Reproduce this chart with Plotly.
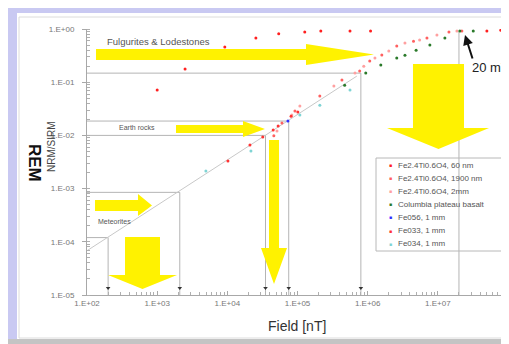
import plotly.graph_objects as go

# ---------------- data ----------------
x_tickvals = [1e2, 1e3, 1e4, 1e5, 1e6, 1e7, 1e8]
x_ticktext = ["1.E+02", "1.E+03", "1.E+04", "1.E+05", "1.E+06", "1.E+07", "1.E+08"]
y_tickvals = [1e-5, 1e-4, 1e-3, 1e-2, 1e-1, 1e0]
y_ticktext = ["1.E-05", "1.E-04", "1.E-03", "1.E-02", "1.E-01", "1.E+00"]

s60_field = [1.0e3, 2.5e3, 9.2e3, 2.55e4, 5.4e4, 1.27e5, 2.15e5, 5.6e5, 1.1e6, 5.0e7, 7.9e7]
s60_rem = [0.071, 0.177, 0.46, 0.68, 0.81, 0.88, 0.92, 0.92, 0.92, 0.92, 0.95]

s1900_field = [4.6e4, 6.0e4, 9.2e4, 2.08e5, 4.3e5, 7.7e5, 1.07e6, 1.59e6, 2.6e6, 4.5e6, 7.0e6, 1.44e7, 2.2e7]
s1900_rem = [0.0098, 0.0171, 0.0288, 0.055, 0.11, 0.163, 0.25, 0.324, 0.479, 0.59, 0.68, 0.88, 0.92]

s2mm_field = [5.1e4, 8.3e4, 1.08e5, 3.3e5, 6.6e5, 8.8e5, 1.27e6, 2.0e6, 3.4e6, 5.5e6, 9.7e6, 1.87e7]
s2mm_rem = [0.0121, 0.0242, 0.0357, 0.085, 0.149, 0.20, 0.285, 0.386, 0.545, 0.62, 0.77, 0.92]

basalt_field = [4.7e5, 9.4e5, 1.54e6, 2.6e6, 3.4e6, 4.9e6, 7.7e6, 1.26e7, 2.06e7, 3.2e7]
basalt_rem = [0.088, 0.149, 0.21, 0.285, 0.32, 0.40, 0.50, 0.68, 0.92, 0.92]

fe056_field = [7.3e4]
fe056_rem = [0.0187]

fe033_field = [1.02e4, 2.1e4, 3.2e4, 4.5e4, 5.3e4, 8.1e4, 1.01e5]
fe033_rem = [0.0033, 0.0066, 0.0093, 0.0126, 0.015, 0.023, 0.0276]

fe034_field = [4.95e3, 2.17e4, 1.08e5, 2.08e5, 5.6e5]
fe034_rem = [0.00214, 0.0051, 0.0242, 0.037, 0.071]

trend_field = [1e2, 7e5]
trend_rem = [6.8e-5, 0.13]

# reference boxes: (field, rem) corners
box_field = [2.0e2, 2.1e3, 3.5e4, 7.5e4, 8.0e5]
box_rem = [1.2e-4, 8.5e-4, 0.01, 0.0186, 0.148]
sat_field = 2.0e7
sat_top = 0.9
axis_min_field = 1e2
axis_min_rem = 1e-5
marker_rem = 1.35e-5

series = [
    ("Fe2.4Ti0.6O4, 60 nm", s60_field, s60_rem, "#ff2020"),
    ("Fe2.4Ti0.6O4, 1900 nm", s1900_field, s1900_rem, "#ff6060"),
    ("Fe2.4Ti0.6O4, 2mm", s2mm_field, s2mm_rem, "#ffa0a0"),
    ("Columbia plateau basalt", basalt_field, basalt_rem, "#2a7a2a"),
    ("Fe056, 1 mm", fe056_field, fe056_rem, "#3030ff"),
    ("Fe033, 1 mm", fe033_field, fe033_rem, "#ff3333"),
    ("Fe034, 1 mm", fe034_field, fe034_rem, "#7fd4d4"),
]

# ---------------- layout helpers ----------------
W, H = 509, 344
L, R, T, B = 79, 9, 21, 57
PW, PH = W - L - R, H - T - B


def px(x, y):
    return (x - L) / PW, (H - B - y) / PH


def path(points):
    pts = [px(x, y) for x, y in points]
    return "M " + " L ".join(f"{a:.4f},{b:.4f}" for a, b in pts) + " Z"


def right_arrow(x0, x1, yt, yb, ht, hb, tip):
    yc = (yt + yb) / 2
    return path([(x0, yt), (x1, yt), (x1, ht), (tip, yc), (x1, hb), (x1, yb), (x0, yb)])


def down_arrow(xl, xr, y0, y1, hl, hr, tipy, tipx=None):
    xc = (xl + xr) / 2 if tipx is None else tipx
    return path([(xl, y0), (xr, y0), (xr, y1), (hr, y1), (xc, tipy), (hl, y1), (xl, y1)])


fig = go.Figure()

GRAY = "#b4b4b4"
# reference box lines
for f, r in zip(box_field, box_rem):
    fig.add_trace(go.Scatter(x=[axis_min_field, f, f], y=[r, r, axis_min_rem], mode="lines",
                             line=dict(color=GRAY, width=1), showlegend=False, hoverinfo="skip"))
fig.add_trace(go.Scatter(x=[sat_field, sat_field], y=[sat_top, axis_min_rem], mode="lines",
                         line=dict(color=GRAY, width=1), showlegend=False, hoverinfo="skip"))
# trend line
fig.add_trace(go.Scatter(x=trend_field, y=trend_rem, mode="lines",
                         line=dict(color="#c8c8c8", width=1), showlegend=False, hoverinfo="skip"))
# small arrow tips at bottom of reference lines
fig.add_trace(go.Scatter(x=box_field, y=[marker_rem] * len(box_field), mode="markers",
                         marker=dict(symbol="triangle-down", size=4, color="#333"),
                         showlegend=False, hoverinfo="skip"))

for name, fx, fy, col in series:
    fig.add_trace(go.Scatter(x=fx, y=fy, mode="markers", name=name,
                             marker=dict(symbol="circle", size=3, color=col), showlegend=False))

YEL = "#fff200"
shapes = [
    # outer frame
    dict(type="rect", xref="paper", yref="paper", x0=px(0, 0)[0], x1=px(9, 0)[0], y0=px(0, 344)[1], y1=px(0, 0)[1],
         fillcolor="#c9c9f2", line=dict(width=0), layer="below"),
    dict(type="rect", xref="paper", yref="paper", x0=px(0, 0)[0], x1=px(509, 0)[0], y0=px(0, 5)[1], y1=px(0, 0)[1],
         fillcolor="#c9c9f2", line=dict(width=0), layer="below"),
    dict(type="rect", xref="paper", yref="paper", x0=px(0, 0)[0], x1=px(509, 0)[0], y0=px(0, 344)[1], y1=px(0, 331)[1],
         fillcolor="#c4c4c4", line=dict(width=0), layer="below"),
    dict(type="rect", xref="paper", yref="paper", x0=px(504, 0)[0], x1=px(509, 0)[0], y0=px(0, 344)[1], y1=px(0, 5)[1],
         fillcolor="#c4c4c4", line=dict(width=0), layer="below"),
    dict(type="rect", xref="paper", yref="paper", x0=px(11, 0)[0], x1=px(503, 0)[0], y0=px(0, 330)[1], y1=px(0, 9)[1],
         fillcolor="rgba(0,0,0,0)", line=dict(width=1, color="#dcdcdc"), layer="below"),
    # legend box
    dict(type="rect", xref="paper", yref="paper", x0=px(368, 0)[0], x1=px(503, 0)[0], y0=px(0, 243)[1], y1=px(0, 150)[1],
         fillcolor="rgba(0,0,0,0)", line=dict(width=1, color="#b8b8b8")),
    # yellow arrows
    dict(type="path", xref="paper", yref="paper", path=right_arrow(88, 298, 41, 52, 36, 57, 366),
         fillcolor=YEL, line=dict(width=0)),
    dict(type="path", xref="paper", yref="paper", path=right_arrow(168, 235, 117, 125, 113, 129, 257),
         fillcolor=YEL, line=dict(width=0)),
    dict(type="path", xref="paper", yref="paper", path=down_arrow(261, 271, 132, 240, 253, 279, 276),
         fillcolor=YEL, line=dict(width=0)),
    dict(type="path", xref="paper", yref="paper", path=right_arrow(87, 130, 192, 203, 186, 208, 144),
         fillcolor=YEL, line=dict(width=0)),
    dict(type="path", xref="paper", yref="paper", path=down_arrow(117, 152, 229, 267, 100, 169, 281),
         fillcolor=YEL, line=dict(width=0)),
    dict(type="path", xref="paper", yref="paper", path=down_arrow(405, 456, 56, 120, 379, 481, 141),
         fillcolor=YEL, line=dict(width=0)),
]

FONT = "Liberation Sans"
annotations = []


def text_at(x, y, s, size, color="#555", xanchor="center", angle=0, bold=False):
    ax, ay = px(x, y)
    if bold:
        s = f"<b>{s}</b>"
    annotations.append(dict(xref="paper", yref="paper", x=ax, y=ay, text=s, showarrow=False,
                            xanchor=xanchor, yanchor="middle", textangle=angle,
                            font=dict(family=FONT, size=size, color=color)))


text_at(150, 33, "Fulgurites &amp; Lodestones", 9.5)
text_at(129, 119, "Earth rocks", 7)
text_at(106, 213, "Meteorites", 7)
text_at(482, 60, "20 mT", 13, color="#222")
text_at(289, 318, "Field [nT]", 14, color="#333")
text_at(43, 139, "NRM/SIRM", 10, color="#444", angle=-90)
text_at(27, 155, "REM", 17, color="#111", angle=90, bold=True)

# arrow for 20 mT
hx, hy = px(457, 27)
annotations.append(dict(xref="paper", yref="paper", x=hx, y=hy, ax=8, ay=25, text="", showarrow=True,
                        arrowhead=2, arrowsize=1, arrowwidth=2, arrowcolor="#111"))

# manual legend
for i, (name, fx, fy, col) in enumerate(series):
    yrow = 157 + i * 13.1
    text_at(382, yrow, "&#9632;", 5, color=col)
    text_at(388, yrow, name, 8, color="#555", xanchor="left")

fig.update_layout(
    width=W, height=H,
    margin=dict(l=L, r=R, t=T, b=B, pad=0),
    paper_bgcolor="white", plot_bgcolor="white",
    showlegend=False,
    shapes=shapes, annotations=annotations,
    font=dict(family=FONT, size=8, color="#777"),
    xaxis=dict(type="log", range=[2, 8], tickmode="array", tickvals=x_tickvals, ticktext=x_ticktext,
               showgrid=False, zeroline=False, showline=True, linecolor="#a8a8a8", linewidth=1,
               ticks="inside", ticklen=4, tickcolor="#a8a8a8", ticklabelstandoff=0,
               tickfont=dict(size=8, color="#777"),
               minor=dict(ticks="inside", ticklen=3, tickcolor="#b0b0b0", dtick="D1", showgrid=False)),
    yaxis=dict(type="log", range=[-5, 0], tickmode="array", tickvals=y_tickvals, ticktext=y_ticktext,
               showgrid=False, zeroline=False, showline=True, linecolor="#a8a8a8", linewidth=1,
               ticks="outside", ticklen=4, tickcolor="#a8a8a8", ticklabelstandoff=6,
               tickfont=dict(size=8, color="#777"),
               minor=dict(ticks="inside", ticklen=3, tickcolor="#b0b0b0", dtick="D1", showgrid=False)),
)

fig.write_html("out.html")
